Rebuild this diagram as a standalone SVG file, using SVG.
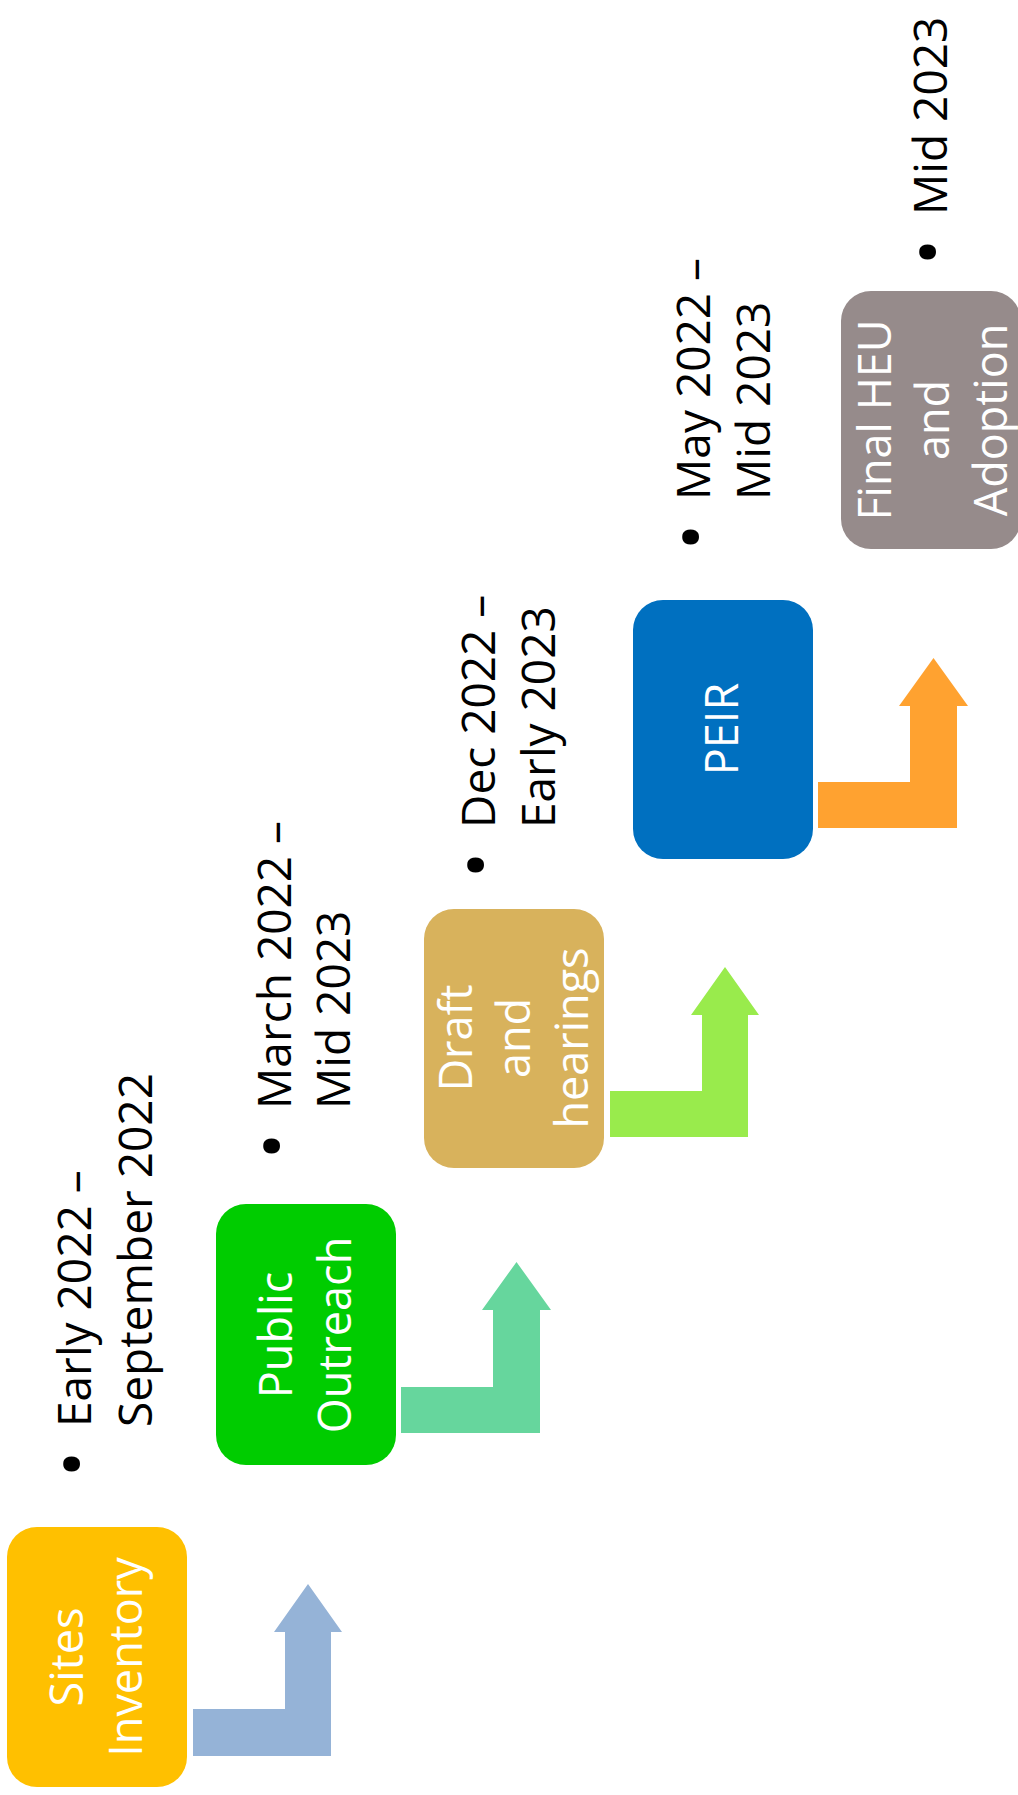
<svg xmlns="http://www.w3.org/2000/svg" width="1018" height="1795" viewBox="0 0 1018 1795">
<style>
.box{stroke:none}
.lbl{font-family:"Open Sans","Noto Sans",sans-serif;font-size:45px;fill:#fff;text-anchor:middle}
.date{font-family:"Open Sans","Noto Sans",sans-serif;font-size:46px;fill:#000}
.bul{font-family:"Open Sans","Noto Sans",sans-serif;font-size:72px;fill:#000;text-anchor:middle}
</style>
<rect width="1018" height="1795" fill="#fff"/>
<g id="connectors">
<path d="M193,1709 H285 V1632 H274 L308,1584 L342,1632 H331 V1756 H193 Z" fill="#95B3D7"/>
<path d="M401,1387 H493 V1310 H482 L516.5,1262 L551,1310 H540 V1433 H401 Z" fill="#66D69D"/>
<path d="M610,1091 H702 V1015 H691 L725,967 L759,1015 H748 V1137 H610 Z" fill="#99EB4C"/>
<path d="M818,782 H910 V706 H899 L933.5,658 L968,706 H957 V828 H818 Z" fill="#FFA230"/>
</g>
<g id="sites-inventory">
<rect class="box" x="7" y="1527" width="180" height="260" rx="30" fill="#FFC000"/>
<text class="lbl" transform="translate(97,1657) rotate(-90)"><tspan x="0" y="-14">Sites</tspan><tspan x="0" y="45">Inventory</tspan></text>
</g>
<g id="public-outreach">
<rect class="box" x="216" y="1204" width="180" height="261" rx="30" fill="#00CC00"/>
<text class="lbl" transform="translate(306,1335) rotate(-90)"><tspan x="0" y="-14">Public</tspan><tspan x="0" y="45">Outreach</tspan></text>
</g>
<g id="draft-hearings">
<rect class="box" x="424" y="909" width="180" height="259" rx="30" fill="#D8B25C"/>
<text class="lbl" transform="translate(514,1038) rotate(-90)"><tspan x="0" y="-42">Draft</tspan><tspan x="0" y="16">and</tspan><tspan x="0" y="74">hearings</tspan></text>
</g>
<g id="peir">
<rect class="box" x="633" y="600" width="180" height="259" rx="30" fill="#0070C0"/>
<text class="lbl" transform="translate(723,729) rotate(-90)"><tspan x="0" y="15">PEIR</tspan></text>
</g>
<g id="final-heu">
<rect class="box" x="841" y="291" width="180" height="258" rx="30" fill="#968B8B"/>
<text class="lbl" transform="translate(931,420) rotate(-90)"><tspan x="0" y="-40">Final HEU</tspan><tspan x="0" y="18">and</tspan><tspan x="0" y="76">Adoption</tspan></text>
</g>
<g id="date-1" transform="translate(0,1427) rotate(-90)">
<text class="bul" x="-37" y="98">•</text>
<text class="date"><tspan x="0" y="91">Early 2022 –</tspan><tspan x="0" y="152">September 2022</tspan></text>
</g>
<g id="date-2" transform="translate(0,1109) rotate(-90)">
<text class="bul" x="-37" y="298">•</text>
<text class="date"><tspan x="0" y="291">March 2022 –</tspan><tspan x="0" y="350">Mid 2023</tspan></text>
</g>
<g id="date-3" transform="translate(0,828) rotate(-90)">
<text class="bul" x="-37" y="502">•</text>
<text class="date"><tspan x="0" y="495">Dec 2022 –</tspan><tspan x="0" y="555">Early 2023</tspan></text>
</g>
<g id="date-4" transform="translate(0,500) rotate(-90)">
<text class="bul" x="-37" y="717">•</text>
<text class="date"><tspan x="0" y="710">May 2022 –</tspan><tspan x="0" y="770">Mid 2023</tspan></text>
</g>
<g id="date-5" transform="translate(0,215) rotate(-90)">
<text class="bul" x="-37" y="954">•</text>
<text class="date"><tspan x="0" y="947">Mid 2023</tspan></text>
</g>
</svg>
